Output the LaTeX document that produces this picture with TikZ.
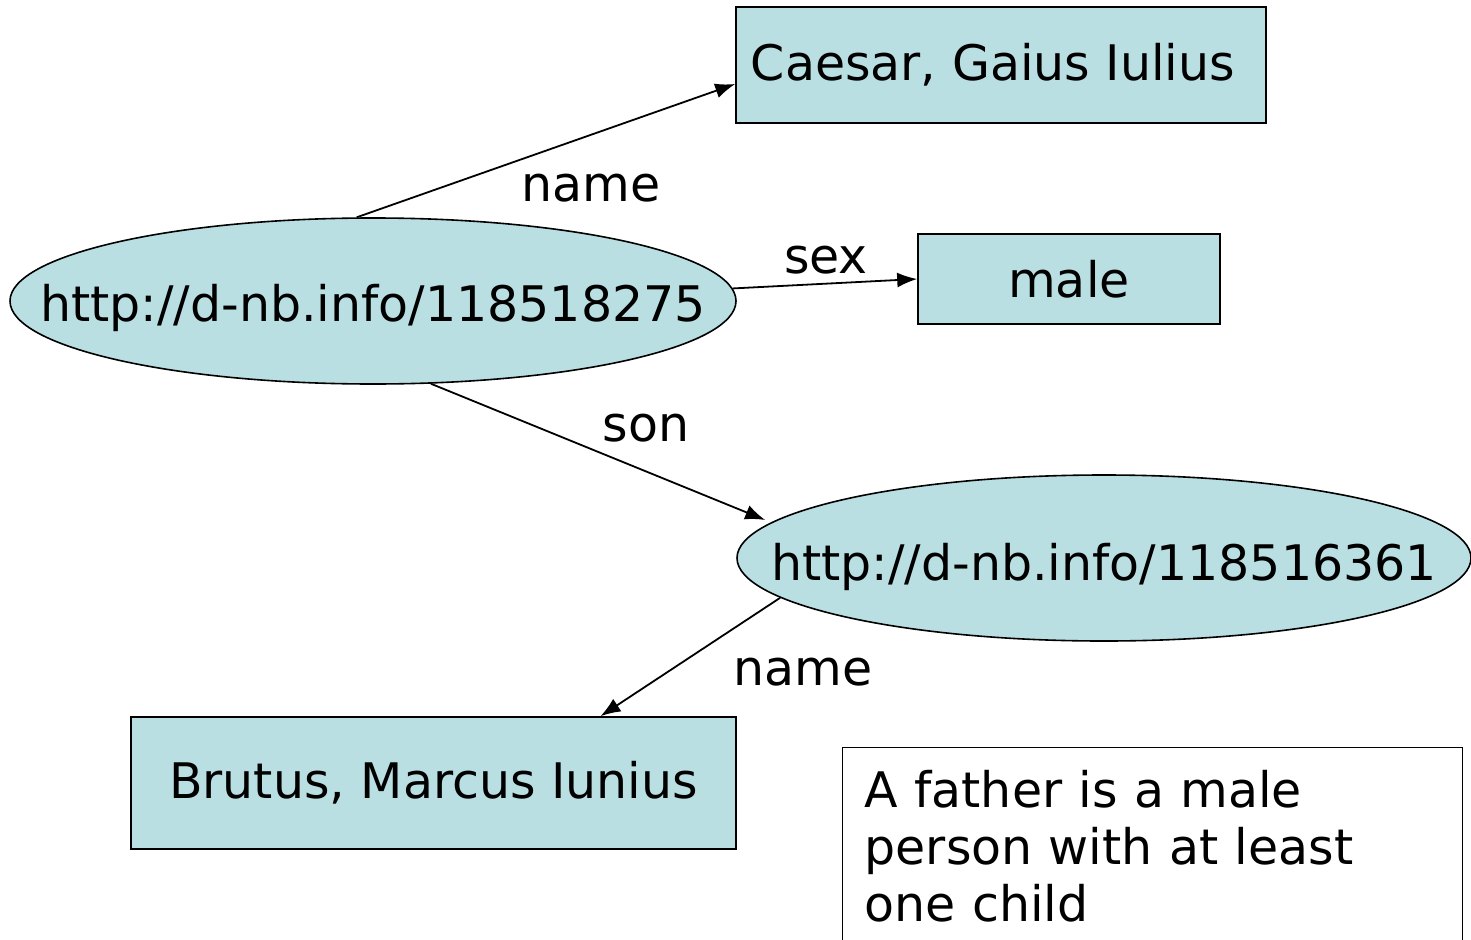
\documentclass[tikz,border=0pt]{standalone}
\usepackage{fontspec}
\setmainfont{DejaVu Sans}
\usetikzlibrary{shapes.geometric,arrows.meta}
\definecolor{nodefill}{RGB}{185,223,227}
\tikzset{
  big/.style={font=\fontsize{49}{57}\selectfont},
  res/.style={draw=black, line width=1.6pt, fill=nodefill, ellipse, inner sep=0pt},
  lit/.style={draw=black, line width=1.6pt, fill=nodefill, rectangle, inner sep=0pt, big},
  edgelabel/.style={big, anchor=base, inner sep=0pt},
  rel/.style={line width=1.8pt, -{Latex[length=20pt,width=15pt]}},
}
\begin{document}
\begin{tikzpicture}[x=1pt,y=-1pt]
\useasboundingbox (0,0) rectangle (1471,939);

% resources
\node[res, minimum width=726pt, minimum height=166pt,
      label={[big,yshift=-7pt]center:http://d-nb.info/118518275}] (father) at (373,301) {};
\node[res, minimum width=734pt, minimum height=166pt,
      label={[big,yshift=-9pt]center:http://d-nb.info/118516361}] (son) at (1104,558) {};

% literals
\node[lit, minimum width=530pt, minimum height=116pt] (caesar) at (1001,65) {Caesar, Gaius Iulius\kern16pt\relax};
\node[lit, minimum width=302pt, minimum height=90pt] (male) at (1069,279) {male};
\node[lit, minimum width=605pt, minimum height=132pt] (brutus) at (433.5,783) {Brutus, Marcus Iunius};

% note
\node[draw=black, line width=1.2pt, fill=white, anchor=north west, big,
      text width=576pt, align=left, inner xsep=22pt, inner ysep=23pt] (note) at (842,747)
  {A father is a male\\person with at least\\one child};

% properties
\draw[rel] (father.101) -- ([yshift=-19pt]caesar.west);
\draw[rel] (father.2) -- (male.west);
\draw[rel] (father.-55) -- ([shift={(29pt,38pt)}]son.west);
\draw[rel] (son.187) -- ([xshift=167pt]brutus.north);

\node[edgelabel] (l1) at (591,201) {name};
\node[edgelabel] (l2) at (826,273) {sex};
\node[edgelabel] (l3) at (646,441) {son};
\node[edgelabel] (l4) at (803,685) {name};
\end{tikzpicture}
\end{document}
